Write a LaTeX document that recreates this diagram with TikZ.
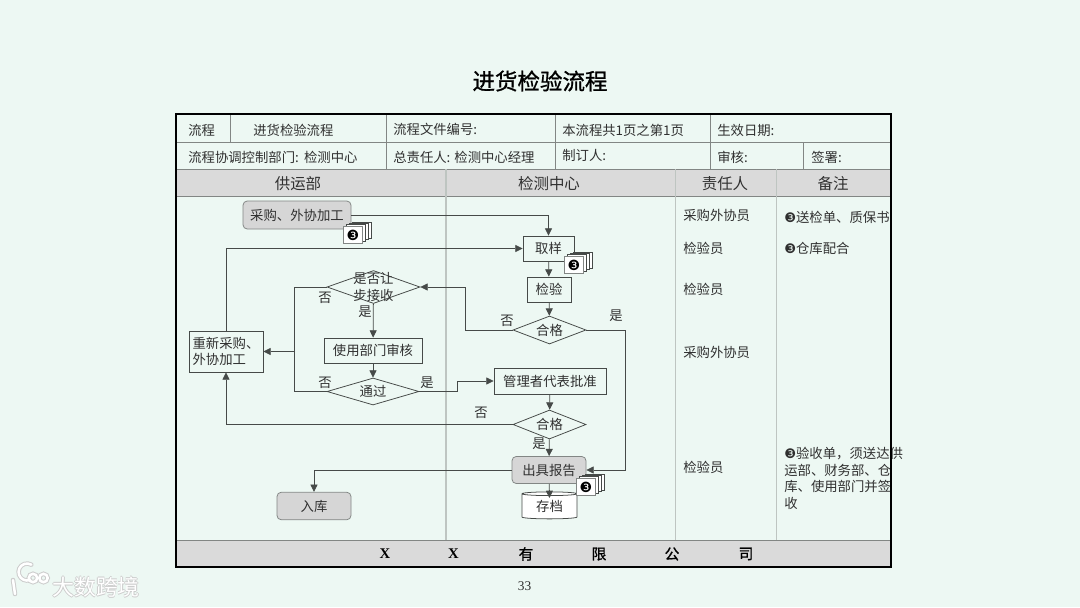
\documentclass[tikz,border=0pt]{standalone}
\usepackage{fontspec}
\setmainfont{Liberation Serif}
\newfontfamily\cjk{Noto Sans CJK SC}
\newfontfamily\cjkbold[FakeBold=1]{Noto Sans CJK SC}
\newfontfamily\sym{DejaVu Sans}
\usetikzlibrary{arrows.meta,shapes.geometric}
\definecolor{pagebg}{RGB}{237,248,243}
\definecolor{headbg}{RGB}{218,218,218}
\definecolor{nodebg}{RGB}{214,214,214}
\definecolor{inkline}{RGB}{70,74,72}
\definecolor{inktext}{RGB}{48,48,48}
\definecolor{gridline}{RGB}{130,134,132}
\definecolor{colline}{RGB}{190,197,193}
\newcommand{\numdot}{{\sym\fontsize{9.4pt}{10pt}\selectfont ❸}}
\tikzset{
  basefont/.style={font=\cjk\fontsize{9.5pt}{11.7pt}\selectfont,text=inktext},
  flowbox/.style 2 args={draw=inkline,line width=0.55pt,basefont,align=center,inner sep=0pt,
    minimum width=#1*0.025cm,minimum height=#2*0.025cm},
  softbox/.style 2 args={flowbox={#1}{#2},draw=gridline,rounded corners=3pt,fill=nodebg},
  testbox/.style 2 args={draw=inkline,line width=0.55pt,diamond,inner sep=0pt,
    minimum width=#1*0.025cm,minimum height=#2*0.025cm},
  testtext/.style={label={[basefont,align=center,inner sep=0pt]center:#1}},
  cell/.style={basefont,anchor=west,inner sep=0pt},
  headcell/.style={font=\cjk\fontsize{11pt}{13pt}\selectfont,text=inktext,inner sep=0pt},
  footcell/.style={font=\cjkbold\fontsize{10.5pt}{12pt}\selectfont,text=black,inner sep=0pt},
  yesno/.style={basefont,inner sep=0pt},
  link/.style={draw=inkline,line width=0.55pt,>={Triangle[length=5.2pt,width=5pt]}},
  docstack/.pic={
    \foreach \d in {3,2,1}
      \draw[draw=inkline,line width=0.35pt,fill=white] (\d*3,-\d*1.2+3.6) rectangle ++(19,16.5);
    \draw[draw=gridline,line width=0.4pt,fill=white] (0,4) rectangle (19,21);
    \node[inner sep=0pt,text=black,font=\sym\fontsize{10pt}{11pt}\selectfont] (-num) at (10,13) {❸};
  }
}
\begin{document}
\begin{tikzpicture}[x=0.025cm,y=-0.025cm]
  \useasboundingbox (0,0) rectangle (1080,607);
  \fill[pagebg] (0,0) rectangle (1080,607);
  % table
  \fill[headbg] (176,169) rectangle (891,196);
  \fill[headbg] (176,540) rectangle (891,567);
  \foreach \y in {142,169,196,540}
    \draw[gridline,line width=0.7pt] (176,\y)--(891,\y);
  \foreach \x in {386,555,710}
    \draw[gridline,line width=0.6pt] (\x,114)--(\x,169);
  \draw[gridline,line width=0.6pt] (230,114)--(230,142);
  \draw[gridline,line width=0.6pt] (803,142)--(803,169);
  \draw[colline,line width=0.9pt] (446,169)--(446,540);
  \foreach \x in {675.5,776.5}
    \draw[colline,line width=0.7pt] (\x,169)--(\x,540);
  % table texts
  \node[cell] (flow) at (188,130) {流程};
  \node[cell] (flowname) at (253,130) {进货检验流程};
  \node[cell] (fileno) at (393,129) {流程文件编号:};
  \node[cell] (pageno) at (562,130) {本流程共1页之第1页};
  \node[cell] (date) at (717,130) {生效日期:};
  \node[cell] (dept) at (188,157) {流程协调控制部门:\ \,检测中心};
  \node[cell] (chief) at (393,157) {总责任人: 检测中心经理};
  \node[cell] (maker) at (562,155) {制订人:};
  \node[cell] (audit) at (717,157) {审核:};
  \node[cell] (sign) at (811,157) {签署:};
  \node[headcell] (colsupply) at (298,183.5) {供运部};
  \node[headcell] (colcheck) at (549,183.5) {检测中心};
  \node[headcell] (colduty) at (725,183.5) {责任人};
  \node[headcell] (colnote) at (833,183.5) {备注};
  % flow nodes
  \node[softbox={108}{28}] (buy) at (297,215) {采购、外协加工};
  \node[flowbox={51}{25}] (sample) at (548.5,248.5) {取样};
  \node[flowbox={44}{25}] (inspect) at (549,289.5) {检验};
  \node[testbox={73}{28},testtext={合格}] (passa) at (549.5,330) {};
  \node[testbox={93}{33},testtext={是否让\\步接收}] (accept) at (373.5,287) {};
  \node[flowbox={98}{25}] (review) at (373,350.5) {使用部门审核};
  \node[testbox={92}{27},testtext={通过}] (okay) at (373,391.5) {};
  \node[flowbox={74}{41},align=left] (rebuy) at (226,351.5) {重新采购、\\外协加工};
  \node[flowbox={112}{26}] (approve) at (550,381) {管理者代表批准};
  \node[testbox={73}{29},testtext={合格}] (passb) at (549.5,424.5) {};
  \node[softbox={74}{27}] (report) at (549,470) {出具报告};
  \node[softbox={74}{27.5}] (stock) at (314,506) {入库};
  \node[flowbox={55}{27},cylinder,shape border rotate=90,aspect=0.14,fill=white] (store) at (549.5,506.5) {\raisebox{-1pt}{存档}};
  \coordinate (storetop) at (549.5,498);
  % connectors
  \draw[link,->] (buy.east) -| (sample.north);
  \draw[link,->] (rebuy.north) |- (sample.west);
  \draw[link,->] (sample) -- (inspect);
  \draw[link,->] (inspect) -- (passa);
  \draw[link,->] (passa.west) -- ++(-47,0) |- (accept.east);
  \draw[link,->] (passa.east) -- ++(39,0) |- (report.east);
  \draw[link,->] (accept) -- (review);
  \draw[link,->] (review) -- (okay);
  \draw[link] (accept.west) -- ++(-32,0) |- (okay.west);
  \coordinate (backjoin) at (295,351.5);
  \draw[link,->] (backjoin) -- (rebuy.east);
  \draw[link,->] (okay.east) -- ++(38,0) |- (approve.west);
  \draw[link,->] (approve) -- (passb);
  \draw[link,->] (passb.west) -| (rebuy.south);
  \draw[link,->] (passb) -- (report);
  \draw[link,->] (report.west) -| (stock.north);
  \draw[link,->] (report) -- (storetop);
  % paper stacks
  \pic (docbuy) at (343,222) {docstack};
  \pic (docsample) at (564,252) {docstack};
  \pic (docreport) at (576,474) {docstack};
  % yes and no
  \node[yesno] (noa) at (325,298) {否};
  \node[yesno] (yesa) at (365,312) {是};
  \node[yesno] (nob) at (325,383) {否};
  \node[yesno] (yesb) at (427,383) {是};
  \node[yesno] (noc) at (507,321) {否};
  \node[yesno] (yesc) at (616,316) {是};
  \node[yesno] (nod) at (481,413) {否};
  \node[yesno] (yesd) at (539,444) {是};
  % duty and notes
  \node[cell] (dutya) at (683,215) {采购外协员};
  \node[cell] (dutyb) at (683,248) {检验员};
  \node[cell] (dutyc) at (683,289) {检验员};
  \node[cell] (dutyd) at (683,352) {采购外协员};
  \node[cell] (dutye) at (683,467) {检验员};
  \node[cell] (notea) at (784,217) {\numdot 送检单、质保书};
  \node[cell] (noteb) at (784,248) {\numdot 仓库配合};
  \node[cell,align=left] (notec) at (784,478.5) {\numdot 验收单，须送达供\\运部、财务部、仓\\库、使用部门并签\\收};
  % footer and frame
  \node[footcell] (fa) at (385,554) {\rmfamily\bfseries X};
  \node[footcell] (fb) at (453.5,554) {\rmfamily\bfseries X};
  \node[footcell] (fc) at (526,554) {有};
  \node[footcell] (fd) at (599,554) {限};
  \node[footcell] (fe) at (672,554) {公};
  \node[footcell] (ff) at (746,554) {司};
  \draw[black,line width=2.1pt] (176,114) rectangle (891,567);
  \node[font=\cjkbold\fontsize{16pt}{18pt}\selectfont,text=black,inner sep=0pt] (title) at (540,81) {进货检验流程};
  \node[font=\fontsize{9.5pt}{11pt}\selectfont,text=inktext,inner sep=0pt] (pagenum) at (524.5,586) {33};
  % watermark
  \foreach \i/\dx/\dy in {a/-0.9/0,b/0.9/0,c/0/-0.9,d/0/0.9}
    \node[font=\cjk\fontsize{15.6pt}{17pt}\selectfont,text=black!20,inner sep=0pt] (mark\i) at (96+\dx,587+\dy) {大数跨境};
  \node[font=\cjk\fontsize{15.6pt}{17pt}\selectfont,text=white,inner sep=0pt] (mark) at (96,587) {大数跨境};
  \foreach \c/\w in {black!20/3.2pt,white/1.8pt}{
    \draw[\c,line width=\w,line cap=round] (13,580)--(15,594);
    \draw[\c,line width=\w,line cap=round] (30,580) arc (70:300:8.5);
    \draw[\c,line width=\w] (33,578) circle (4.2);
    \draw[\c,line width=\w] (43.5,578) circle (4.2);
  }
\end{tikzpicture}
\end{document}
